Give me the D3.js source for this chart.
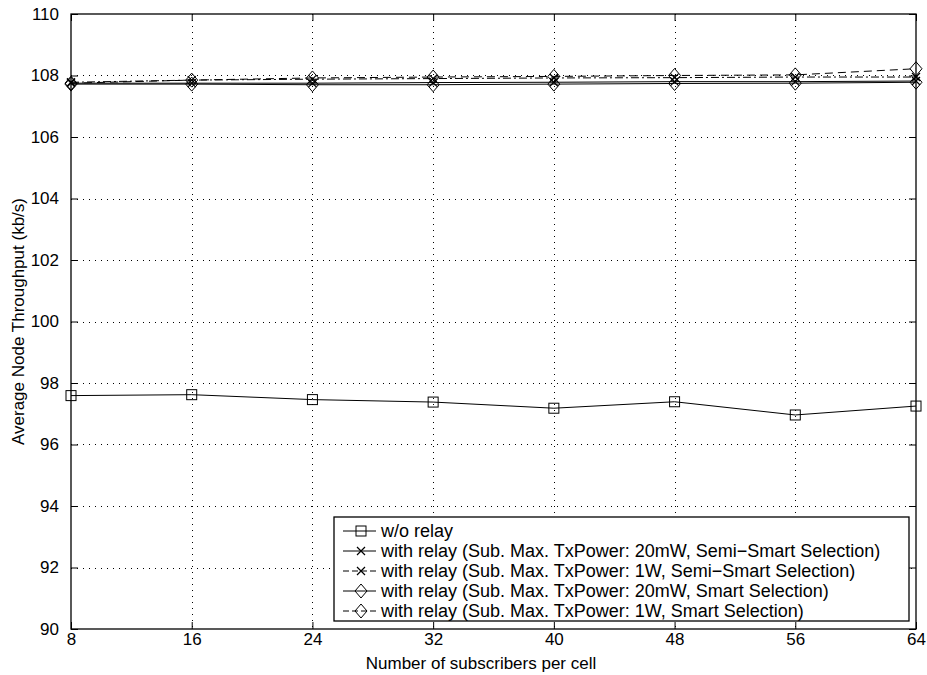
<!DOCTYPE html>
<html>
<head>
<meta charset="utf-8">
<script src="https://cdn.jsdelivr.net/npm/d3@7"></script>
<style>
  body { margin: 0; background: #fff; }
  text { font-family: "Liberation Sans", Arial, sans-serif; fill: #000; }
</style>
</head>
<body>
<div id="viz"></div>
<script>
// data
var subscribers = [8, 16, 24, 32, 40, 48, 56, 64];
var woRelay      = [97.59, 97.62, 97.46, 97.38, 97.18, 97.39, 96.96, 97.25];
var semi20mW     = [107.75, 107.75, 107.75, 107.77, 107.78, 107.80, 107.80, 107.82];
var semi1W       = [107.78, 107.85, 107.88, 107.90, 107.92, 107.93, 107.95, 107.95];
var smart20mW    = [107.72, 107.72, 107.70, 107.70, 107.72, 107.74, 107.75, 107.78];
var smart1W      = [107.75, 107.85, 107.92, 107.95, 107.97, 108.00, 108.02, 108.22];
var xTicks = [8, 16, 24, 32, 40, 48, 56, 64];
var yTicks = [90, 92, 94, 96, 98, 100, 102, 104, 106, 108, 110];
var seriesNames = [
  'w/o relay',
  'with relay (Sub. Max. TxPower: 20mW, Semi\u2212Smart Selection)',
  'with relay (Sub. Max. TxPower: 1W, Semi\u2212Smart Selection)',
  'with relay (Sub. Max. TxPower: 20mW, Smart Selection)',
  'with relay (Sub. Max. TxPower: 1W, Smart Selection)'
];

var width = 927, height = 675;
var margin = {top: 14, right: 11, bottom: 46, left: 71};
var fontSize = 17;

var series = [
  {name: seriesNames[0], values: woRelay,   marker: 'square',  dash: null},
  {name: seriesNames[1], values: semi20mW,  marker: 'cross',   dash: null},
  {name: seriesNames[2], values: semi1W,    marker: 'cross',   dash: '8,3,2,3'},
  {name: seriesNames[3], values: smart20mW, marker: 'diamond', dash: null},
  {name: seriesNames[4], values: smart1W,   marker: 'diamond', dash: '8,5'}
];

var svg = d3.select('#viz').append('svg')
  .attr('width', width)
  .attr('height', height)
  .style('background', '#fff');

var x = d3.scaleLinear().domain([8, 64]).range([margin.left, width - margin.right]);
var y = d3.scaleLinear().domain([90, 110]).range([height - margin.bottom, margin.top]);

var x0 = x.range()[0], x1 = x.range()[1];
var y0 = y.range()[0], y1 = y.range()[1];

// grid
var grid = svg.append('g').attr('stroke', '#000').attr('stroke-width', 1).attr('stroke-dasharray', '1,5');
grid.selectAll('.vg').data(xTicks.slice(1, -1)).enter().append('line')
  .attr('x1', d => Math.round(x(d)) + 0.5).attr('x2', d => Math.round(x(d)) + 0.5)
  .attr('y1', y1).attr('y2', y0);
grid.selectAll('.hg').data(yTicks.slice(1, -1)).enter().append('line')
  .attr('y1', d => Math.round(y(d)) + 0.5).attr('y2', d => Math.round(y(d)) + 0.5)
  .attr('x1', x0).attr('x2', x1);

// axes (ticks inside, on all four sides)
var tickLen = 7;
svg.append('g').attr('transform', 'translate(0,' + y0 + ')')
  .call(d3.axisBottom(x).tickValues(xTicks).tickSizeInner(-tickLen).tickSizeOuter(0).tickPadding(4))
  .call(g => g.select('.domain').remove());
svg.append('g').attr('transform', 'translate(0,' + y1 + ')')
  .call(d3.axisTop(x).tickValues(xTicks).tickSizeInner(-tickLen).tickSizeOuter(0).tickFormat(''))
  .call(g => g.select('.domain').remove());
svg.append('g').attr('transform', 'translate(' + x0 + ',0)')
  .call(d3.axisLeft(y).tickValues(yTicks).tickSizeInner(-tickLen).tickSizeOuter(0).tickPadding(12))
  .call(g => g.select('.domain').remove());
svg.append('g').attr('transform', 'translate(' + x1 + ',0)')
  .call(d3.axisRight(y).tickValues(yTicks).tickSizeInner(-tickLen).tickSizeOuter(0).tickFormat(''))
  .call(g => g.select('.domain').remove());

svg.selectAll('.tick text').attr('font-size', fontSize).attr('font-family', '"Liberation Sans", Arial, sans-serif').attr('fill', '#000');
svg.selectAll('.tick line').attr('stroke', '#000');

svg.append('rect')
  .attr('x', x0).attr('y', y1).attr('width', x1 - x0).attr('height', y0 - y1)
  .attr('fill', 'none').attr('stroke', '#000').attr('stroke-width', 1.3);

// markers
function drawMarker(g, type, cx, cy) {
  if (type === 'square') {
    g.append('rect').attr('x', cx - 5).attr('y', cy - 5).attr('width', 10).attr('height', 10)
      .attr('fill', 'none').attr('stroke', '#000').attr('stroke-width', 1);
  } else if (type === 'cross') {
    g.append('path').attr('d', 'M' + (cx - 4) + ',' + (cy - 4) + 'L' + (cx + 4) + ',' + (cy + 4) +
        'M' + (cx - 4) + ',' + (cy + 4) + 'L' + (cx + 4) + ',' + (cy - 4))
      .attr('stroke', '#000').attr('stroke-width', 1.2).attr('fill', 'none');
  } else if (type === 'diamond') {
    g.append('path').attr('d', 'M' + cx + ',' + (cy - 7) + 'L' + (cx + 6) + ',' + cy + 'L' + cx + ',' + (cy + 7) +
        'L' + (cx - 6) + ',' + cy + 'Z')
      .attr('stroke', '#000').attr('stroke-width', 1).attr('fill', 'none');
  }
}

var line = d3.line().x((d, i) => x(subscribers[i])).y(d => y(d));

series.forEach(function(s) {
  var g = svg.append('g');
  g.append('path').datum(s.values)
    .attr('d', line)
    .attr('fill', 'none').attr('stroke', '#000').attr('stroke-width', 1)
    .attr('stroke-dasharray', s.dash);
  s.values.forEach(function(v, i) { drawMarker(g, s.marker, x(subscribers[i]), y(v)); });
});

// labels
svg.append('text')
  .attr('x', 481).attr('y', 669)
  .attr('text-anchor', 'middle').attr('font-size', fontSize)
  .text('Number of subscribers per cell');
svg.append('text')
  .attr('transform', 'translate(24,' + ((y0 + y1) / 2) + ') rotate(-90)')
  .attr('text-anchor', 'middle').attr('font-size', fontSize)
  .text('Average Node Throughput (kb/s)');

// legend
var lg = {x: 334, y: 517, w: 575, h: 104, row: 20};
var legend = svg.append('g');
legend.append('rect')
  .attr('x', lg.x).attr('y', lg.y).attr('width', lg.w).attr('height', lg.h)
  .attr('fill', '#fff').attr('stroke', '#000').attr('stroke-width', 1.3);
series.forEach(function(s, i) {
  var cy = lg.y + 14 + i * lg.row;
  legend.append('line')
    .attr('x1', lg.x + 9).attr('x2', lg.x + 42).attr('y1', cy).attr('y2', cy)
    .attr('stroke', '#000').attr('stroke-width', 1)
    .attr('stroke-dasharray', s.dash ? '6,3' : null);
  drawMarker(legend, s.marker, lg.x + 27, cy);
  legend.append('text')
    .attr('x', lg.x + 47).attr('y', cy + 6)
    .attr('font-size', 18)
    .text(s.name);
});
</script>
</body>
</html>
